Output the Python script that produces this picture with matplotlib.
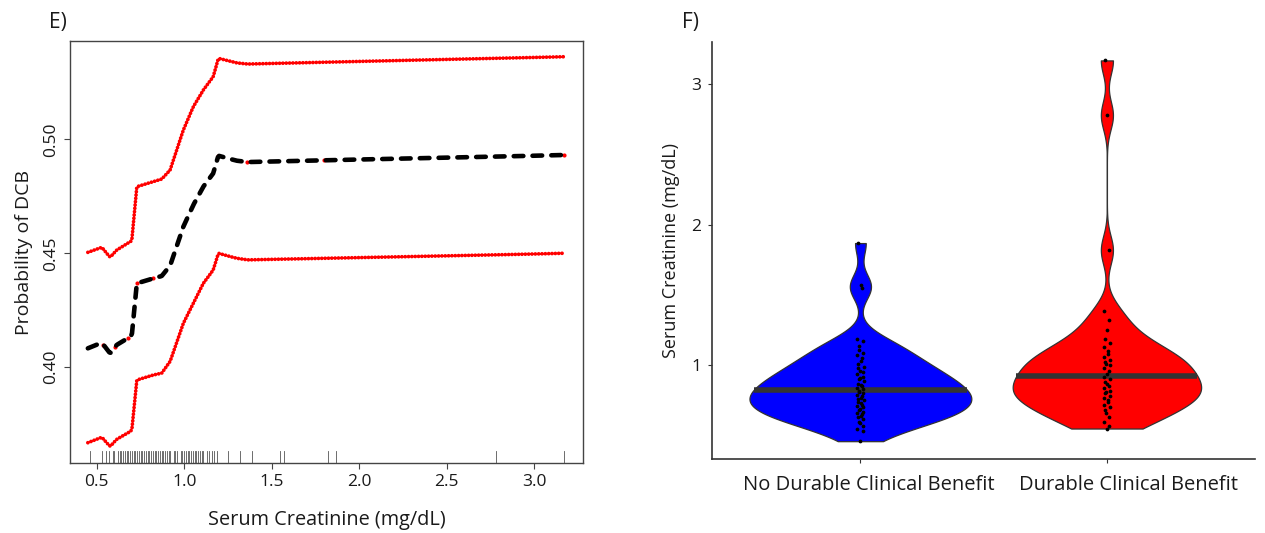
import numpy as np
import matplotlib
matplotlib.use("Agg")
import matplotlib.pyplot as plt

plt.rcParams['font.family'] = ['Open Sans', 'DejaVu Sans']

# ---- Panel E: predicted probability of DCB vs serum creatinine ----
crt_x = [0.449, 0.529, 0.576, 0.614, 0.700, 0.729, 0.823, 0.871, 0.919, 0.995,
         1.052, 1.109, 1.166, 1.195, 1.25, 1.30, 1.36, 1.80, 2.30, 2.85, 3.17]
prob_upper = [0.4504, 0.4526, 0.4482, 0.4514, 0.4555, 0.4792, 0.4814, 0.4825, 0.4865, 0.5041,
              0.5143, 0.5216, 0.5275, 0.5355, 0.5345, 0.5335, 0.5330, 0.5338, 0.5347, 0.5356, 0.5362]
prob_fit = [0.4083, 0.4108, 0.4061, 0.4098, 0.4138, 0.4368, 0.4390, 0.4400, 0.4445, 0.4617,
            0.4712, 0.4792, 0.4851, 0.4928, 0.4916, 0.4906, 0.4900, 0.4908, 0.4916, 0.4925, 0.4931]
prob_lower = [0.3669, 0.3693, 0.3652, 0.3684, 0.3722, 0.3944, 0.3966, 0.3974, 0.4025, 0.4193,
              0.4281, 0.4368, 0.4427, 0.4500, 0.4488, 0.4478, 0.4471, 0.4478, 0.4486, 0.4494, 0.4500]
fit_knots = [0.538, 0.605, 0.676, 0.729, 0.82, 1.195, 1.36, 1.80, 3.17]

# ---- Panel F: serum creatinine by clinical benefit group ----
groups = ["No Durable Clinical Benefit", "Durable Clinical Benefit"]
group_colors = ["#0000FF", "#FF0000"]
crt_ndcb = [0.46, 0.53, 0.55, 0.57, 0.59, 0.60, 0.62, 0.63, 0.64, 0.65, 0.66, 0.67, 0.68,
            0.69, 0.70, 0.71, 0.72, 0.73, 0.74, 0.75, 0.76, 0.77, 0.78, 0.79, 0.80, 0.81,
            0.82, 0.83, 0.84, 0.85, 0.86, 0.87, 0.89, 0.90, 0.91, 0.92, 0.94, 0.95, 0.96,
            0.98, 0.99, 1.01, 1.03, 1.05, 1.07, 1.09, 1.11, 1.14, 1.17, 1.19, 1.55, 1.57, 1.87]
crt_dcb = [0.55, 0.57, 0.60, 0.63, 0.66, 0.68, 0.70, 0.72, 0.74, 0.75, 0.77, 0.78, 0.80,
           0.81, 0.82, 0.84, 0.85, 0.87, 0.88, 0.90, 0.92, 0.94, 0.96, 0.98, 1.00, 1.01,
           1.02, 1.04, 1.06, 1.08, 1.10, 1.13, 1.16, 1.19, 1.25, 1.32, 1.39, 1.82, 2.78, 3.17]

fig = plt.figure(figsize=(12.65, 5.33), dpi=100)
text_col = "#1a1a1a"

# ---------------- Panel E ----------------
axE = fig.add_axes([0.05534, 0.13133, 0.40577, 0.79174])
xs = np.linspace(crt_x[0], crt_x[-1], 400)
up = np.interp(xs, crt_x, prob_upper)
lo = np.interp(xs, crt_x, prob_lower)
fit = np.interp(xs, crt_x, prob_fit)

dot_style = dict(color="#FF0000", lw=2.7, linestyle=(0, (0.01, 0.88)),
                 dash_capstyle="round", solid_capstyle="round")
axE.plot(xs, up, **dot_style)
axE.plot(xs, lo, **dot_style)
axE.plot(fit_knots, np.interp(fit_knots, crt_x, prob_fit), "o", color="#FF0000",
         ms=3.0, mew=0)
axE.plot(xs, fit, color="black", lw=3.3, linestyle=(0, (2.1, 2.0)),
         dash_capstyle="round")

all_crt = np.array(crt_ndcb + crt_dcb)
for v in np.unique(all_crt):
    axE.axvline(v, ymin=0, ymax=0.029, color="#555555", lw=0.6)

axE.set_xlim(0.347, 3.281)
axE.set_ylim(0.358, 0.5431)
axE.set_xticks([0.5, 1.0, 1.5, 2.0, 2.5, 3.0])
axE.set_xticklabels(["0.5", "1.0", "1.5", "2.0", "2.5", "3.0"])
axE.set_yticks([0.40, 0.45, 0.50])
axE.set_yticklabels(["0.40", "0.45", "0.50"], rotation=90, va="center")
for s in axE.spines.values():
    s.set_color("#444444")
    s.set_linewidth(1.0)
axE.tick_params(axis="both", length=4, width=0.8, color="#444444",
                labelsize=12.5, labelcolor=text_col, pad=4)
axE.set_xlabel("Serum Creatinine (mg/dL)", fontsize=14.3, color=text_col, labelpad=14)
axE.set_ylabel("Probability of DCB", fontsize=14, color=text_col, labelpad=7)
fig.text(0.039, 0.957, "E)", fontsize=15, color=text_col, va="center")

# ---------------- Panel F ----------------
axF = fig.add_axes([0.56324, 0.13827, 0.42870, 0.78293])


def nrd0(v):
    v = np.asarray(v)
    iqr = np.subtract(*np.percentile(v, [75, 25]))
    s = min(np.std(v, ddof=1), iqr / 1.34)
    return 0.9 * s * len(v) ** -0.2


def kde(v, grid):
    v = np.asarray(v)
    h = nrd0(v)
    z = (grid[:, None] - v[None, :]) / h
    return np.exp(-0.5 * z ** 2).sum(axis=1) / (len(v) * h * np.sqrt(2 * np.pi))


dens = []
for vals in (crt_ndcb, crt_dcb):
    g = np.linspace(min(vals), max(vals), 512)
    dens.append((g, kde(vals, g)))
dmax = max(d.max() for _, d in dens)

for i, ((g, d), vals, col) in enumerate(zip(dens, (crt_ndcb, crt_dcb), group_colors)):
    pos = i + 1
    hw = 0.45 * d / dmax
    axF.fill_betweenx(g, pos - hw, pos + hw, facecolor=col, edgecolor="#333333",
                      lw=0.9, zorder=2)
    cdf = np.cumsum(d)
    cdf = cdf / cdf[-1]
    med = np.interp(0.5, cdf, g)
    mhw = np.interp(med, g, hw)
    axF.plot([pos - mhw, pos + mhw], [med, med], color="#333333", lw=4.0,
             solid_capstyle="butt", zorder=3)
    k = np.arange(len(vals))
    jit = 0.013 * np.sin(k * 2.399)
    axF.plot(pos + jit, vals, "o", color="black", ms=2.7, mew=0, zorder=4)

axF.set_xlim(0.4, 2.6)
axF.set_ylim(0.331, 3.301)
axF.set_xticks([1, 2])
axF.set_xticklabels([])
# category labels, set slightly right of their ticks
for pos, (name, dx) in enumerate(zip(groups, (5.8, 15.8)), start=1):
    axF.annotate(name, xy=(pos, 0), xycoords=("data", "axes fraction"),
                 xytext=(dx, -11), textcoords="offset points", ha="center", va="top",
                 fontsize=14.5, color=text_col)
axF.set_yticks([1, 2, 3])
axF.set_yticklabels(["1", "2", "3"])
axF.spines["top"].set_visible(False)
axF.spines["right"].set_visible(False)
for s in ("left", "bottom"):
    axF.spines[s].set_color("#333333")
    axF.spines[s].set_linewidth(1.2)
axF.tick_params(axis="y", length=3, width=0.8, color="#333333", labelsize=12.5,
                labelcolor=text_col, pad=5)
axF.tick_params(axis="x", length=3, width=0.8, color="#333333")
axF.set_ylabel("Serum Creatinine (mg/dL)", fontsize=13, color=text_col, labelpad=8)
fig.text(0.539, 0.957, "F)", fontsize=15, color=text_col, va="center")

fig.savefig("out.png", dpi=100, facecolor="white")
